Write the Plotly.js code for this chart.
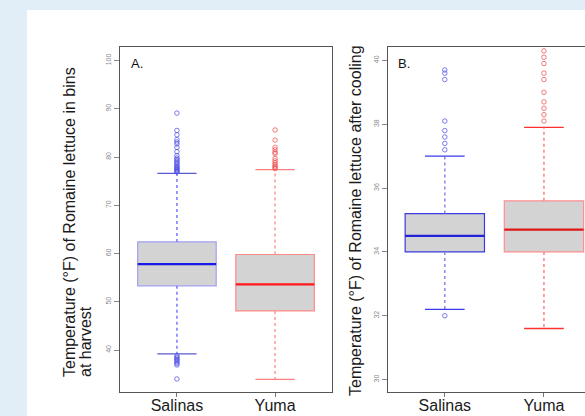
<!DOCTYPE html>
<html><head><meta charset="utf-8">
<script src="https://cdn.plot.ly/plotly-3.0.1.min.js"></script>
<style>
body{margin:0;background:#e2eef7;overflow:hidden;}
#card{position:absolute;left:27px;top:10px;width:558px;height:406px;background:#fff;}
</style>
</head><body><div id="card"></div>
<script>
// ---- data ----
const categories = ['Salinas', 'Yuma'];
const positions = [1, 2];

// Panel A: temperature in bins at harvest (°F)
const harvestQ1 = [53.3, 48.1];
const harvestMedian = [57.8, 53.6];
const harvestQ3 = [62.4, 59.8];
const harvestLowerWhisker = [39.2, 33.9];
const harvestUpperWhisker = [76.6, 77.4];
const harvestOutliersSalinas = [89.1, 85.5, 84.6, 83.6, 83.1, 82.7, 82.0, 81.1, 80.3, 79.8, 79.5, 79.2, 78.9, 78.6, 78.3, 78.0, 77.8, 77.6, 77.4, 77.2, 77.0, 76.9,
  38.8, 38.5, 38.3, 38.0, 37.8, 37.5, 37.2, 36.9, 34.0];
const harvestOutliersYuma = [85.6, 83.5, 82.0, 81.5, 81.0, 80.7, 79.7, 79.2, 78.8, 78.4, 78.1, 77.8, 77.6];

// Panel B: temperature after cooling (°F)
const coolingQ1 = [34.0, 34.0];
const coolingMedian = [34.5, 34.7];
const coolingQ3 = [35.2, 35.6];
const coolingLowerWhisker = [32.2, 31.6];
const coolingUpperWhisker = [37.0, 37.9];
const coolingOutliersSalinas = [32.0, 37.2, 37.4, 37.6, 37.8, 38.1, 39.4, 39.6, 39.7];
const coolingOutliersYuma = [38.1, 38.3, 38.5, 38.7, 39.0, 39.4, 39.6, 39.9, 40.1, 40.3];

const yTicksA = [40, 50, 60, 70, 80, 90, 100];
const yTicksB = [30, 32, 34, 36, 38, 40];

const titleA1 = 'Temperature (°F) of Romaine lettuce in bins';
const titleA2 = 'at harvest';
const titleB = 'Temperature (°F) of Romaine lettuce after cooling';

// ---- styles ----
const styles = {
  A: [
    {border: '#a0a0f0', median: '#1a1ae6', whisker: '#7777ff', cap: '#5a5ad0', pt: 'rgba(80,80,230,0.75)'},
    {border: '#ff8a8a', median: '#ff1a1a', whisker: '#ff9a9a', cap: '#ff8080', pt: 'rgba(235,70,70,0.7)'}
  ],
  B: [
    {border: '#3a3ae0', median: '#2222d8', whisker: '#8888ee', cap: '#3a3af0', pt: 'rgba(90,90,235,0.8)'},
    {border: '#ff9090', median: '#e01818', whisker: '#ff8080', cap: '#ff3030', pt: 'rgba(235,90,90,0.8)'}
  ]
};

const traces = [];
function addPanel(xa, ya, q1, med, q3, lo, hi, outs, st) {
  const halfBox = 0.4, halfCap = 0.2;
  positions.forEach((p, i) => {
    const s = st[i];
    traces.push({type: 'scatter', mode: 'lines', xaxis: xa, yaxis: ya, hoverinfo: 'skip',
      x: [p, p, null, p, p], y: [q3[i], hi[i], null, q1[i], lo[i]],
      line: {color: s.whisker, width: 1.5, dash: 'dot'}, showlegend: false});
    traces.push({type: 'box', xaxis: xa, yaxis: ya, x: [p], q1: [q1[i]], median: [med[i]], q3: [q3[i]],
      lowerfence: [q1[i]], upperfence: [q3[i]], width: 2 * halfBox, whiskerwidth: 0,
      fillcolor: '#d3d3d3', line: {color: s.border, width: 1.2}, boxpoints: false, showlegend: false});
    traces.push({type: 'scatter', mode: 'lines', xaxis: xa, yaxis: ya, hoverinfo: 'skip',
      x: [p - halfBox, p + halfBox], y: [med[i], med[i]],
      line: {color: s.median, width: 2.2}, showlegend: false});
    traces.push({type: 'scatter', mode: 'lines', xaxis: xa, yaxis: ya, hoverinfo: 'skip',
      x: [p - halfCap, p + halfCap, null, p - halfCap, p + halfCap], y: [hi[i], hi[i], null, lo[i], lo[i]],
      line: {color: s.cap, width: 1.3}, showlegend: false});
    traces.push({type: 'scatter', mode: 'markers', xaxis: xa, yaxis: ya,
      x: outs[i].map(() => p), y: outs[i],
      marker: {symbol: 'circle-open', size: 4.5, color: s.pt, line: {width: 1, color: s.pt}}, showlegend: false});
  });
}
addPanel('x', 'y', harvestQ1, harvestMedian, harvestQ3, harvestLowerWhisker, harvestUpperWhisker,
  [harvestOutliersSalinas, harvestOutliersYuma], styles.A);
addPanel('x2', 'y2', coolingQ1, coolingMedian, coolingQ3, coolingLowerWhisker, coolingUpperWhisker,
  [coolingOutliersSalinas, coolingOutliersYuma], styles.B);

const W = 558, H = 406, OX = 27, OY = 10;
const px = v => (v - OX) / W;
const py = v => 1 - (v - OY) / H;
const FONT = '"Liberation Sans", Arial, sans-serif';

const xBase = {
  tickmode: 'array', tickvals: positions, ticktext: categories,
  ticks: 'outside', ticklen: 4, tickcolor: '#777', tickwidth: 1, ticklabelstandoff: -5,
  showline: true, linecolor: '#555', linewidth: 1, mirror: true,
  showgrid: false, zeroline: false,
  tickfont: {family: FONT, size: 16, color: '#1a1a1a'}, fixedrange: true
};
const yBase = {
  tickmode: 'array', ticks: 'outside', ticklen: 5, tickcolor: '#888', tickwidth: 1,
  showline: true, linecolor: '#555', linewidth: 1, mirror: true,
  showgrid: false, zeroline: false, tickangle: -90,
  tickfont: {family: FONT, size: 7, color: '#8a8a8a'}, fixedrange: true
};

const layout = {
  width: W, height: H,
  margin: {l: 0, r: 0, t: 0, b: 0},
  paper_bgcolor: '#ffffff', plot_bgcolor: '#ffffff',
  showlegend: false, boxmode: 'overlay',
  xaxis: Object.assign({}, xBase, {domain: [px(120), px(332)], range: [0.42, 2.58], anchor: 'y'}),
  yaxis: Object.assign({}, yBase, {domain: [py(392), py(47)], range: [31.3, 102.8], tickvals: yTicksA, ticktext: yTicksA.map(String), anchor: 'x'}),
  xaxis2: Object.assign({}, xBase, {domain: [px(388), 1], range: [0.427, 2.414], anchor: 'y2'}),
  yaxis2: Object.assign({}, yBase, {domain: [py(392), py(47)], range: [29.61, 40.42], tickvals: yTicksB, ticktext: yTicksB.map(String), anchor: 'x2', mirror: false}),
  annotations: [
    {text: 'A.', xref: 'paper', yref: 'paper', x: px(129), y: py(63), xanchor: 'left', yanchor: 'middle', showarrow: false,
      font: {family: FONT, size: 13, color: '#111'}},
    {text: 'B.', xref: 'paper', yref: 'paper', x: px(396), y: py(64), xanchor: 'left', yanchor: 'middle', showarrow: false,
      font: {family: FONT, size: 13, color: '#111'}},
    {text: titleA1, xref: 'paper', yref: 'paper', x: px(69), y: py(222), xanchor: 'center', yanchor: 'middle', textangle: -90, showarrow: false,
      font: {family: FONT, size: 16, color: '#1a1a1a'}},
    {text: titleA2, xref: 'paper', yref: 'paper', x: px(85), y: py(342), xanchor: 'center', yanchor: 'middle', textangle: -90, showarrow: false,
      font: {family: FONT, size: 16, color: '#1a1a1a'}},
    {text: titleB, xref: 'paper', yref: 'paper', x: px(355), y: py(221), xanchor: 'center', yanchor: 'middle', textangle: -90, showarrow: false,
      font: {family: FONT, size: 16, color: '#1a1a1a'}}
  ]
};

Plotly.newPlot('card', traces, layout, {displayModeBar: false, staticPlot: true});
</script>
</body></html>
